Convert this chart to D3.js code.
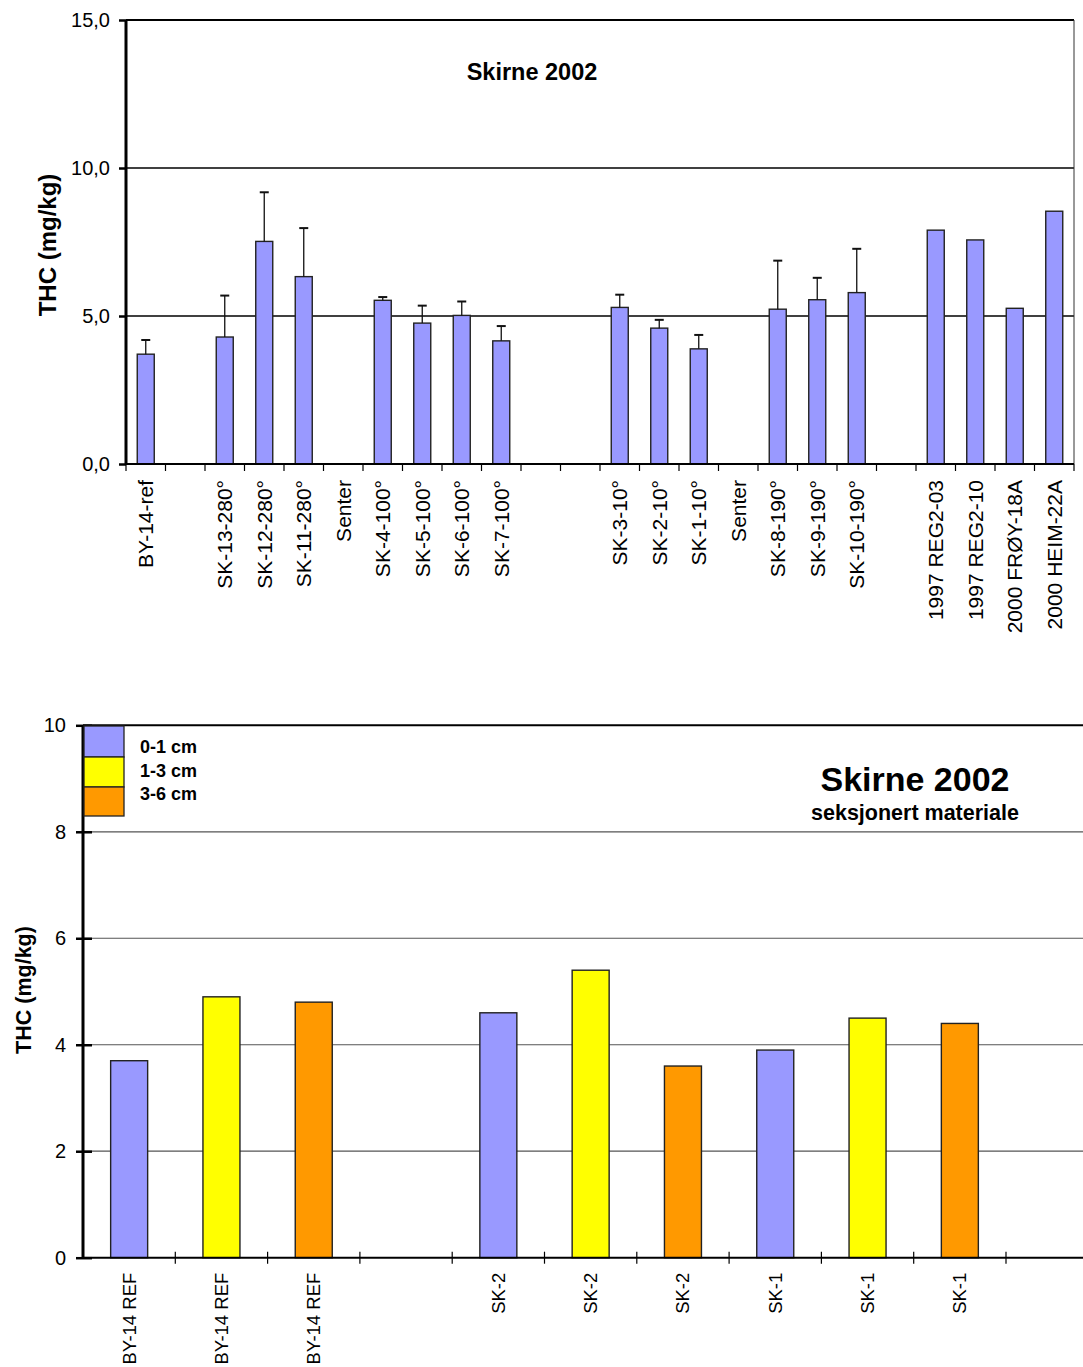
<!DOCTYPE html>
<html>
<head>
<meta charset="utf-8">
<script src="https://cdn.jsdelivr.net/npm/d3@7"></script>
<style>
  html, body { margin: 0; padding: 0; background: #fff; }
  svg { display: block; font-family: "Liberation Sans", Arial, sans-serif; }
</style>
</head>
<body>
<svg id="chart" width="1083" height="1367"></svg>
<script>
// ---- THC by station, Skirne 2002 (mean with upper SD bar) ----
const stationLabels = ["BY-14-ref", "", "SK-13-280°", "SK-12-280°", "SK-11-280°", "Senter",
  "SK-4-100°", "SK-5-100°", "SK-6-100°", "SK-7-100°", "", "",
  "SK-3-10°", "SK-2-10°", "SK-1-10°", "Senter", "SK-8-190°", "SK-9-190°", "SK-10-190°", "",
  "1997 REG2-03", "1997 REG2-10", "2000 FRØY-18A", "2000 HEIM-22A"];
const stationThc = [3.71, null, 4.29, 7.52, 6.33, null,
  5.53, 4.76, 5.02, 4.16, null, null,
  5.29, 4.59, 3.89, null, 5.23, 5.55, 5.79, null,
  7.9, 7.57, 5.26, 8.54];
const stationSd = [0.48, null, 1.4, 1.66, 1.64, null,
  0.11, 0.59, 0.47, 0.5, null, null,
  0.43, 0.28, 0.47, null, 1.64, 0.74, 1.48, null,
  null, null, null, null];
const topTicks = [0, 5, 10, 15];

// ---- Sectioned material ----
const sectionLabels = ["BY-14 REF", "BY-14 REF", "BY-14 REF", "",
  "SK-2", "SK-2", "SK-2", "SK-1", "SK-1", "SK-1", ""];
const sectionDepth = ["0-1 cm", "1-3 cm", "3-6 cm", null,
  "0-1 cm", "1-3 cm", "3-6 cm", "0-1 cm", "1-3 cm", "3-6 cm", null];
const sectionThc = [3.7, 4.9, 4.8, null, 4.6, 5.4, 3.6, 3.9, 4.5, 4.4, null];
const depthLayers = ["0-1 cm", "1-3 cm", "3-6 cm"];
const depthColors = ["#9999FF", "#FFFF00", "#FF9900"];
const bottomTicks = [0, 2, 4, 6, 8, 10];

const svg = d3.select("#chart");
const fmtComma = d => d3.format(".1f")(d).replace(".", ",");

// ================= Top chart =================
(function () {
  const left = 126, right = 1074, top = 20, bottom = 464;
  const g = svg.append("g");
  const x = d3.scaleBand().domain(d3.range(stationLabels.length)).range([left, right]).padding(0);
  const y = d3.scaleLinear().domain([0, 15]).range([bottom, top]);

  // gridlines
  g.selectAll("line.grid").data(topTicks.filter(t => t > 0)).join("line")
    .attr("x1", left).attr("x2", right)
    .attr("y1", d => y(d)).attr("y2", d => y(d))
    .attr("stroke", "#000").attr("stroke-width", d => d === 15 ? 2 : 1.3);
  // right border
  g.append("line").attr("x1", right).attr("x2", right).attr("y1", top).attr("y2", bottom)
    .attr("stroke", "#333").attr("stroke-width", 1);

  // bars
  const bw = 17;
  const idx = d3.range(stationLabels.length).filter(i => stationThc[i] != null);
  g.selectAll("rect.bar").data(idx).join("rect")
    .attr("x", i => x(i) + x.bandwidth() / 2 - bw / 2)
    .attr("y", i => y(stationThc[i]))
    .attr("width", bw)
    .attr("height", i => y(0) - y(stationThc[i]))
    .attr("fill", "#9999FF").attr("stroke", "#222").attr("stroke-width", 1.4);

  // error bars (upper)
  const eIdx = idx.filter(i => stationSd[i] != null);
  g.selectAll("line.err").data(eIdx).join("line")
    .attr("x1", i => x(i) + x.bandwidth() / 2).attr("x2", i => x(i) + x.bandwidth() / 2)
    .attr("y1", i => y(stationThc[i])).attr("y2", i => y(stationThc[i] + stationSd[i]))
    .attr("stroke", "#111").attr("stroke-width", 1.3);
  g.selectAll("line.cap").data(eIdx).join("line")
    .attr("x1", i => x(i) + x.bandwidth() / 2 - 4.5).attr("x2", i => x(i) + x.bandwidth() / 2 + 4.5)
    .attr("y1", i => y(stationThc[i] + stationSd[i])).attr("y2", i => y(stationThc[i] + stationSd[i]))
    .attr("stroke", "#111").attr("stroke-width", 2);

  // x axis with slot separators
  g.append("line").attr("x1", left).attr("x2", right).attr("y1", bottom).attr("y2", bottom)
    .attr("stroke", "#000").attr("stroke-width", 2);
  g.selectAll("line.xt").data(d3.range(stationLabels.length + 1)).join("line")
    .attr("x1", i => left + i * x.step()).attr("x2", i => left + i * x.step())
    .attr("y1", bottom).attr("y2", bottom + 7)
    .attr("stroke", "#000").attr("stroke-width", 1.2);
  g.selectAll("text.xl").data(d3.range(stationLabels.length)).join("text")
    .attr("transform", i => `translate(${x(i) + x.bandwidth() / 2},${bottom + 16}) rotate(-90)`)
    .attr("text-anchor", "end").attr("dy", "0.35em")
    .attr("font-size", 21).attr("fill", "#000")
    .text(i => stationLabels[i]);

  // y axis
  const ya = g.append("g").attr("transform", `translate(${left},0)`)
    .call(d3.axisLeft(y).tickValues(topTicks).tickFormat(fmtComma).tickSize(7).tickPadding(9));
  ya.select(".domain").attr("stroke", "#000").attr("stroke-width", 3).attr("d", `M0,${top}V${bottom}`);
  ya.selectAll(".tick line").attr("stroke", "#000").attr("stroke-width", 2.5);
  ya.selectAll(".tick text").attr("font-size", 20).attr("font-family", "Liberation Sans, Arial, sans-serif").attr("fill", "#000");

  g.append("text").attr("transform", `translate(56,${y(7.4)}) rotate(-90)`)
    .attr("text-anchor", "middle").attr("font-size", 24).attr("font-weight", "bold")
    .text("THC (mg/kg)");

  g.append("text").attr("x", 532).attr("y", 80).attr("text-anchor", "middle")
    .attr("font-size", 23.5).attr("font-weight", "bold").text("Skirne 2002");
})();

// ================= Bottom chart =================
(function () {
  const left = 83, step = 92.3, top = 725.3, bottom = 1257.7;
  const right = left + step * sectionLabels.length;
  const g = svg.append("g");
  const x = d3.scaleBand().domain(d3.range(sectionLabels.length)).range([left, right]).padding(0);
  const y = d3.scaleLinear().domain([0, 10]).range([bottom, top]);
  const color = d3.scaleOrdinal().domain(depthLayers).range(depthColors);

  g.selectAll("line.grid").data(bottomTicks.filter(t => t > 0)).join("line")
    .attr("x1", left).attr("x2", right)
    .attr("y1", d => y(d)).attr("y2", d => y(d))
    .attr("stroke", d => d === 10 ? "#000" : "#555")
    .attr("stroke-width", d => d === 10 ? 2 : 1.2);

  const bw = 37;
  const idx = d3.range(sectionLabels.length).filter(i => sectionThc[i] != null);
  g.selectAll("rect.bar").data(idx).join("rect")
    .attr("x", i => x(i) + x.bandwidth() / 2 - bw / 2)
    .attr("y", i => y(sectionThc[i]))
    .attr("width", bw)
    .attr("height", i => y(0) - y(sectionThc[i]))
    .attr("fill", i => color(sectionDepth[i]))
    .attr("stroke", "#222").attr("stroke-width", 1.4);

  // x axis
  g.append("line").attr("x1", left).attr("x2", right).attr("y1", bottom).attr("y2", bottom)
    .attr("stroke", "#000").attr("stroke-width", 2);
  g.selectAll("line.xt").data(d3.range(1, sectionLabels.length + 1)).join("line")
    .attr("x1", i => left + i * step).attr("x2", i => left + i * step)
    .attr("y1", bottom - 6).attr("y2", bottom + 6)
    .attr("stroke", "#000").attr("stroke-width", 1.2);
  g.selectAll("text.xl").data(d3.range(sectionLabels.length)).join("text")
    .attr("transform", i => `translate(${x(i) + x.bandwidth() / 2},${bottom + 15}) rotate(-90)`)
    .attr("text-anchor", "end").attr("dy", "0.35em")
    .attr("font-size", 18.5).attr("fill", "#000")
    .text(i => sectionLabels[i]);

  // y axis
  const ya = g.append("g").attr("transform", `translate(${left},0)`)
    .call(d3.axisLeft(y).tickValues(bottomTicks).tickFormat(d3.format("d")).tickSize(7).tickPadding(10));
  ya.select(".domain").attr("stroke", "#000").attr("stroke-width", 3).attr("d", `M0,${top}V${bottom}`);
  ya.selectAll(".tick line").attr("stroke", "#000").attr("stroke-width", 2.5).attr("x2", 9).attr("x1", -7);
  ya.selectAll(".tick text").attr("font-size", 20).attr("font-family", "Liberation Sans, Arial, sans-serif").attr("fill", "#000");

  g.append("text").attr("transform", `translate(31,990) rotate(-90)`)
    .attr("text-anchor", "middle").attr("font-size", 21.5).attr("font-weight", "bold")
    .text("THC (mg/kg)");

  // legend
  const lg = g.append("g");
  const boxY = [726, 757, 787, 816];
  lg.selectAll("rect").data(depthLayers).join("rect")
    .attr("x", 84).attr("y", (d, i) => boxY[i])
    .attr("width", 40).attr("height", (d, i) => boxY[i + 1] - boxY[i])
    .attr("fill", d => color(d)).attr("stroke", "#222").attr("stroke-width", 1.3);
  lg.selectAll("text").data(depthLayers).join("text")
    .attr("x", 140).attr("y", (d, i) => 753 + i * 23.5)
    .attr("font-size", 18).attr("font-weight", "bold").text(d => d);

  g.append("text").attr("x", 915).attr("y", 791).attr("text-anchor", "middle")
    .attr("font-size", 34).attr("font-weight", "bold").text("Skirne 2002");
  g.append("text").attr("x", 915).attr("y", 820).attr("text-anchor", "middle")
    .attr("font-size", 21.5).attr("font-weight", "bold").text("seksjonert materiale");
})();
</script>
</body>
</html>
